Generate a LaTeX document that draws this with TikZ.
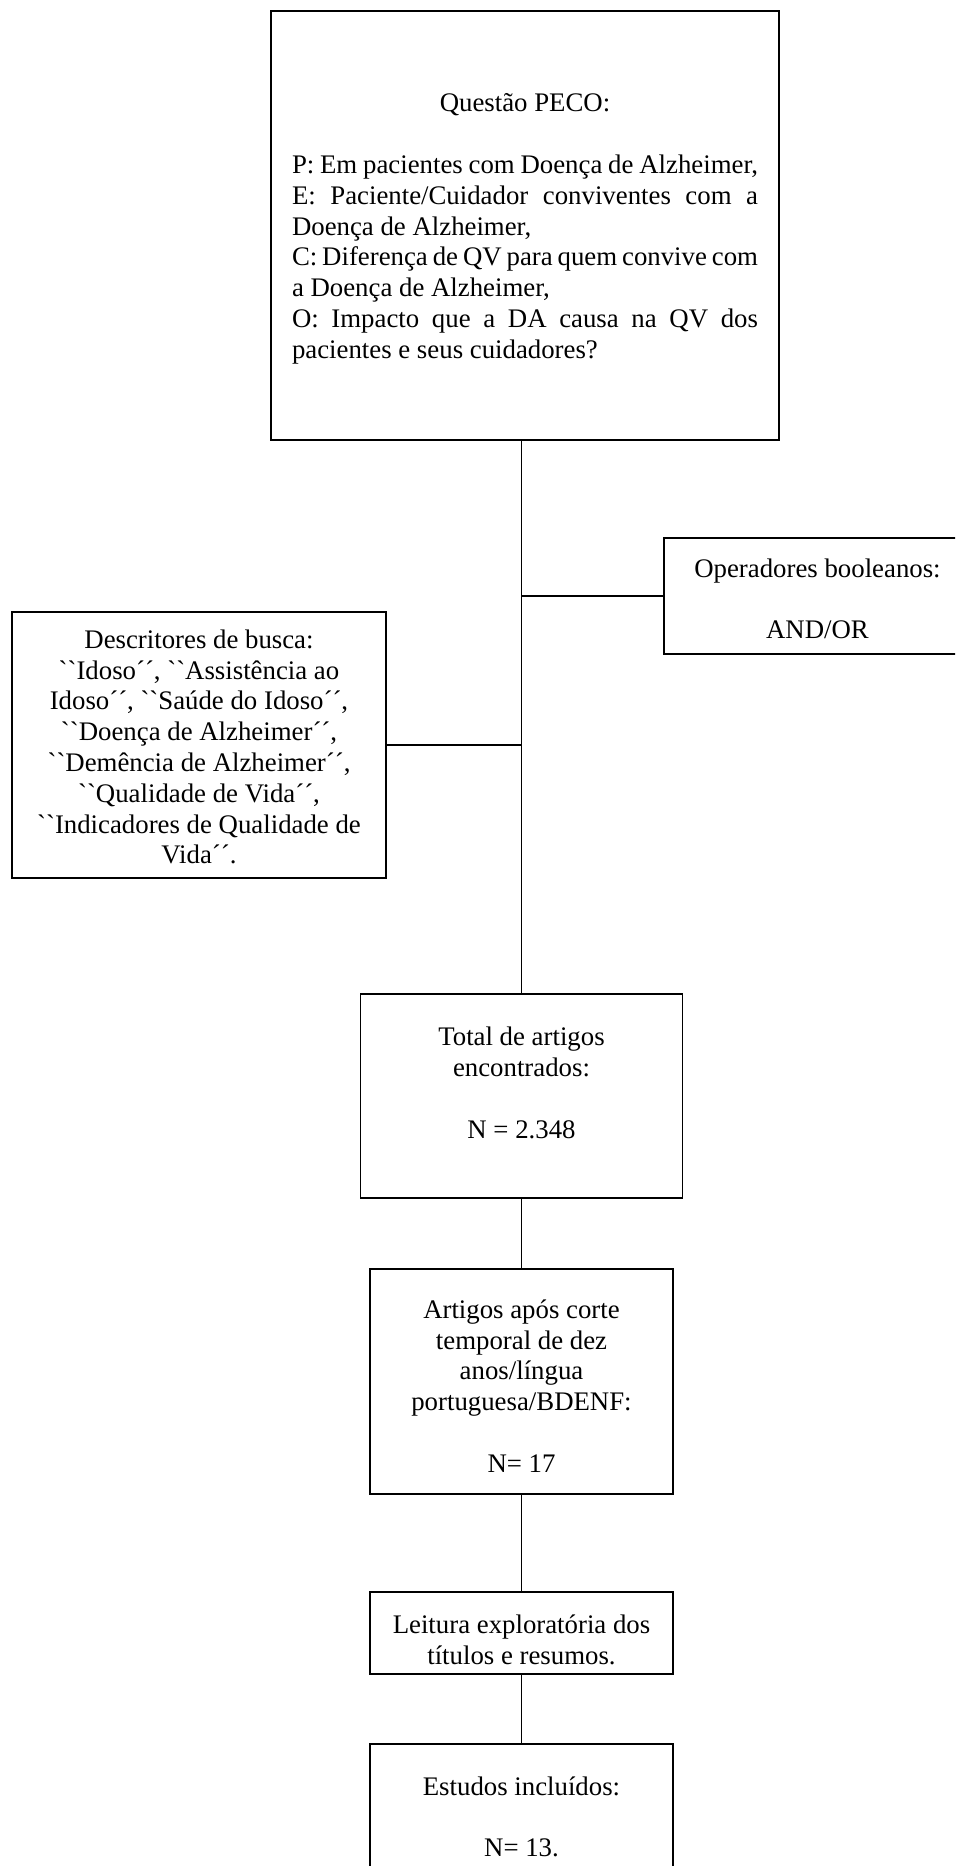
\documentclass[tikz,border=0pt]{standalone}
\usepackage{fontspec}
\setmainfont{Liberation Serif}[Ligatures=TeXOff]
\newlength\pw
\setlength\pw{233pt}
\newcommand\gq{\char96 \char96 \relax}
\begin{document}
\begin{tikzpicture}[x=0.5pt,y=-0.5pt,
  box/.style={draw, line width=0.7pt, rectangle, inner sep=0pt},
  txt/.style={inner sep=0pt, align=center, font=\fontsize{13.4}{15.4}\selectfont},
  conn/.style={line width=0.7pt}]
\clip (0,0) rectangle (955,1866);
% boxes
\node[box, minimum width=254pt, minimum height=214.5pt] (peco) at (525,225.5) {};
\node[box, minimum width=154pt, minimum height=58pt] (oper) at (818,596) {};
\node[box, minimum width=187pt, minimum height=133pt] (desc) at (199,745) {};
\node[box, minimum width=161pt, minimum height=102pt] (total) at (521.5,1096) {};
\node[box, minimum width=151.5pt, minimum height=112.5pt] (art) at (521.5,1381.5) {};
\node[box, minimum width=151.5pt, minimum height=41pt] (leit) at (521.5,1633) {};
\node[box, minimum width=151.5pt, minimum height=78pt] (est) at (521.5,1822) {};
% texts
\node[txt, text width=\pw, align=left] (pecoT) at (525,229) {%
\spaceskip=0.25em plus 1em minus 0.14em\relax
\makebox[\pw][c]{Questão PECO:}\\[15.4pt]
\makebox[\pw][s]{P: Em pacientes com Doença de Alzheimer,}\\
\makebox[\pw][s]{E: Paciente/Cuidador conviventes com a}\\
Doença de Alzheimer,\\
\makebox[\pw][s]{C: Diferença de QV para quem convive com}\\
a Doença de Alzheimer,\\
\makebox[\pw][s]{O: Impacto que a DA causa na QV dos}\\
pacientes e seus cuidadores?};
\node[txt] (operT) at (817.5,599) {Operadores booleanos:\\[15.4pt]AND/OR};
\node[txt] (descT) at (199,747) {Descritores de busca:\\
\gq Idoso´´, \gq Assistência ao\\
Idoso´´, \gq Saúde do Idoso´´,\\
\gq Doença de Alzheimer´´,\\
\gq Demência de Alzheimer´´,\\
\gq Qualidade de Vida´´,\\
\gq Indicadores de Qualidade de\\
Vida´´.};
\node[txt] (totalT) at (521.5,1083) {Total de artigos\\encontrados:\\[15.4pt]N = 2.348};
\node[txt] (artT) at (521.5,1386) {Artigos após corte\\temporal de dez\\anos/língua\\portuguesa/BDENF:\\[15.4pt]N= 17};
\node[txt] (leitT) at (521.5,1640) {Leitura exploratória dos\\títulos e resumos.};
\node[txt] (estT) at (521.5,1817) {Estudos incluídos:\\[15.4pt]N= 13.};
% connectors
\draw[conn] (peco.south -| total.north) -- (total.north);
\draw[conn] (oper.west) -- (oper.west -| total.north);
\draw[conn] (desc.east) -- (desc.east -| total.north);
\draw[conn] (total.south) -- (art.north);
\draw[conn] (art.south) -- (leit.north);
\draw[conn] (leit.south) -- (est.north);
\end{tikzpicture}
\end{document}
